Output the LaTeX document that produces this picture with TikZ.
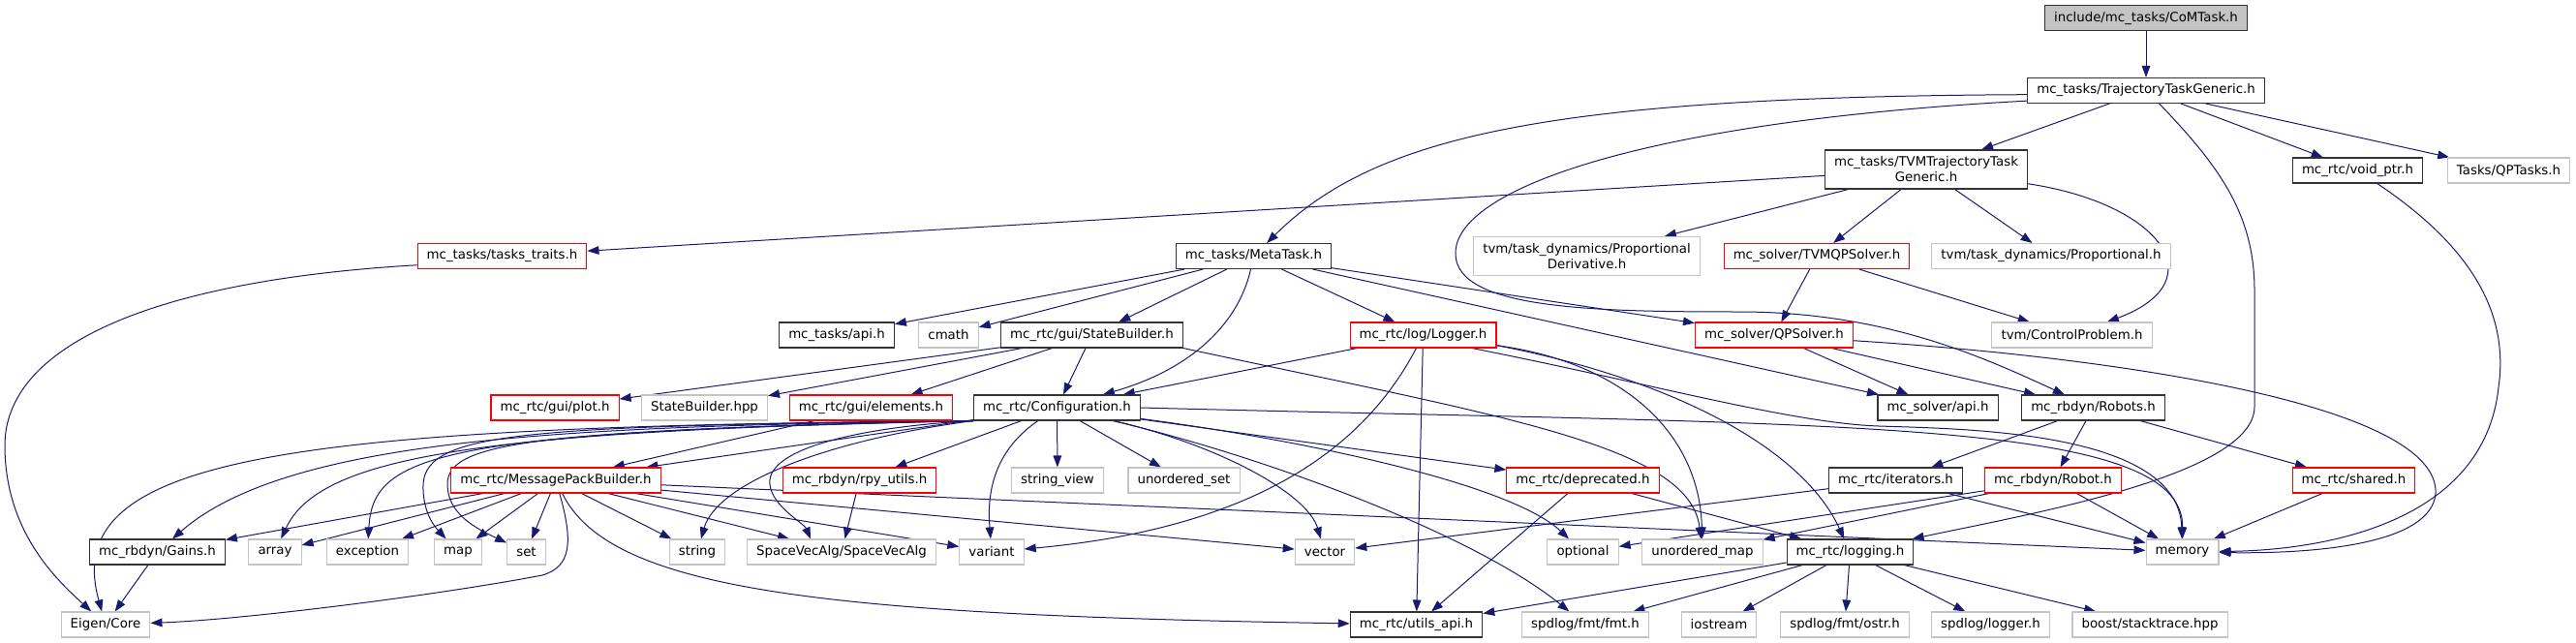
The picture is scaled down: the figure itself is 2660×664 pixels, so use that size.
\documentclass[tikz,border=0pt]{standalone}
\usepackage{fontspec}
\setmainfont{DejaVu Sans}
\usetikzlibrary{arrows.meta}
\definecolor{edgeblue}{HTML}{191970}
\definecolor{boxgray}{HTML}{C4C4C4}
\definecolor{boxred}{HTML}{FF0000}
\pgfdeclarelayer{background}
\pgfsetlayers{background,main}
\begin{document}
\begin{tikzpicture}[x=0.75pt,y=-0.75pt,
  file/.style={draw=black!80,line width=0.8pt,fill=white,inner xsep=7.2pt,
               inner ysep=0pt,minimum height=19.5pt,align=center,
               font=\fontsize{10}{12}\selectfont},
  trunc/.style={file,draw=boxred},
  sys/.style={file,draw=boxgray},
  root/.style={file,fill=boxgray},
  incl/.style={draw=edgeblue,line width=0.75pt,-{Triangle[length=9pt,width=6.5pt]}}]
\useasboundingbox (0,0) rectangle (2660,664);
% les fichiers
\node[root] (com) at (2216,18.7) {include/mc\_tasks/CoMTask.h};
\node[file] (ttg) at (2216,93.4) {mc\_tasks/TrajectoryTaskGeneric.h};
\node[file,minimum height=30pt] (tvmttg) at (1989,175) {mc\_tasks/TVMTrajectoryTask\\Generic.h};
\node[file] (voidptr) at (2434.5,176) {mc\_rtc/void\_ptr.h};
\node[sys] (qptasks) at (2590.5,176) {Tasks/QPTasks.h};
\node[trunc] (traits) at (518.5,264.5) {mc\_tasks/tasks\_traits.h};
\node[file] (meta) at (1294.5,264.5) {mc\_tasks/MetaTask.h};
\node[sys,minimum height=30pt] (pd) at (1638.5,264.5) {tvm/task\_dynamics/Proportional\\Derivative.h};
\node[trunc] (tvmqp) at (1876,264.5) {mc\_solver/TVMQPSolver.h};
\node[sys] (prop) at (2118,264.5) {tvm/task\_dynamics/Proportional.h};
\node[file] (tapi) at (864,346) {mc\_tasks/api.h};
\node[sys] (cmath) at (979.5,346) {cmath};
\node[file] (sb) at (1127.5,346) {mc\_rtc/gui/StateBuilder.h};
\node[trunc] (logger) at (1469.5,346) {mc\_rtc/log/Logger.h};
\node[trunc] (qps) at (1832,346) {mc\_solver/QPSolver.h};
\node[sys] (cp) at (2139.5,346) {tvm/ControlProblem.h};
\node[trunc] (plot) at (573,421) {mc\_rtc/gui/plot.h};
\node[sys] (sbhpp) at (727.5,421) {StateBuilder.hpp};
\node[trunc] (elements) at (899.5,421) {mc\_rtc/gui/elements.h};
\node[file] (conf) at (1091.5,421) {mc\_rtc/Configuration.h};
\node[file] (sapi) at (2001,421) {mc\_solver/api.h};
\node[file] (robots) at (2161.5,421) {mc\_rbdyn/Robots.h};
\node[trunc] (mpb) at (574,496) {mc\_rtc/MessagePackBuilder.h};
\node[trunc] (rpy) at (887.5,496) {mc\_rbdyn/rpy\_utils.h};
\node[sys] (sview) at (1092,496) {string\_view};
\node[sys] (uset) at (1222.5,496) {unordered\_set};
\node[trunc] (depr) at (1634.5,496) {mc\_rtc/deprecated.h};
\node[file] (iter) at (1957.5,496) {mc\_rtc/iterators.h};
\node[trunc] (robot) at (2120,496) {mc\_rbdyn/Robot.h};
\node[trunc] (shared) at (2430.5,496) {mc\_rtc/shared.h};
\node[file] (gains) at (162.5,570) {mc\_rbdyn/Gains.h};
\node[sys] (array) at (284,570) {array};
\node[sys] (exception) at (379.5,570) {exception};
\node[sys] (map) at (473,570) {map};
\node[sys] (set) at (543.5,570) {set};
\node[sys] (string) at (720,570) {string};
\node[sys] (sva) at (869,570) {SpaceVecAlg/SpaceVecAlg};
\node[sys] (variant) at (1024,570) {variant};
\node[sys] (vector) at (1368,570) {vector};
\node[sys] (optional) at (1634.5,570) {optional};
\node[sys] (umap) at (1758,570) {unordered\_map};
\node[file] (logging) at (1910.5,570) {mc\_rtc/logging.h};
\node[sys] (memory) at (2253.5,570) {memory};
\node[sys] (eigen) at (109,645) {Eigen/Core};
\node[file] (uapi) at (1462.5,645) {mc\_rtc/utils\_api.h};
\node[sys] (fmt) at (1637,645) {spdlog/fmt/fmt.h};
\node[sys] (iostream) at (1775,645) {iostream};
\node[sys] (ostr) at (1905,645) {spdlog/fmt/ostr.h};
\node[sys] (slogger) at (2055.5,645) {spdlog/logger.h};
\node[sys] (stacktrace) at (2220,645) {boost/stacktrace.hpp};
% les inclusions
\begin{pgfonlayer}{background}
\draw[incl] (com) -- (ttg);
\draw[incl] (ttg) -- (tvmttg);
\draw[incl] (ttg) -- (voidptr);
\draw[incl] (ttg) -- (qptasks);
\draw[incl] (ttg.182) .. controls (1600,100) and (1420,140) .. (meta);
\draw[incl] (ttg.185) .. controls (1700,125) and (1500,195) .. (1503,263)
  .. controls (1505,320) and (1650,322) .. (1800,322)
  .. controls (1950,323) and (2050,370) .. (robots);
\draw[incl] (ttg.-45) .. controls (2290,170) and (2328,220) .. (2328,300) -- (2328,420)
  .. controls (2328,490) and (2100,530) .. (logging);
\draw[incl] (tvmttg) -- (traits);
\draw[incl] (tvmttg) -- (pd);
\draw[incl] (tvmttg) -- (tvmqp);
\draw[incl] (tvmttg) -- (prop);
\draw[incl] (tvmttg.-8) .. controls (2230,210) and (2290,290) .. (cp);
\draw[incl] (tvmqp) -- (qps);
\draw[incl] (tvmqp) -- (cp);
\draw[incl] (voidptr) .. controls (2560,260) and (2590,330) .. (2580,400)
  .. controls (2565,540) and (2400,568) .. (memory);
\draw[incl] (traits.186) .. controls (150,290) and (5,360) .. (5,460)
  .. controls (5,550) and (60,600) .. (eigen);
\draw[incl] (meta) -- (tapi);
\draw[incl] (meta) -- (cmath);
\draw[incl] (meta) -- (sb);
\draw[incl] (meta) -- (logger);
\draw[incl] (meta) -- (sapi);
\draw[incl] (meta) -- (qps);
\draw[incl] (meta) .. controls (1280,330) and (1235,380) .. (conf);
\draw[incl] (sb) -- (plot);
\draw[incl] (sb) -- (sbhpp);
\draw[incl] (sb) -- (elements);
\draw[incl] (sb) -- (conf);
\draw[incl] (sb.south east) .. controls (1550,430) and (1745,460) .. (umap);
\draw[incl] (logger) -- (conf);
\draw[incl] (logger) -- (uapi);
\draw[incl] (logger) .. controls (1410,460) and (1300,545) .. (variant);
\draw[incl] (logger.-8) .. controls (1680,375) and (1755,450) .. (umap);
\draw[incl] (logger.-8) .. controls (1720,390) and (1860,460) .. (logging);
\draw[incl] (logger.-15) .. controls (1700,395) and (1850,437) .. (1940,440)
  .. controls (2030,443) and (2250,445) .. (memory);
\draw[incl] (qps) -- (sapi);
\draw[incl] (qps) -- (robots);
\draw[incl] (qps.-4) .. controls (2200,370) and (2520,420) .. (2515,510)
  .. controls (2510,560) and (2400,572) .. (memory);
\draw[incl] (elements) -- (mpb);
\draw[incl] (conf) -- (mpb);
\draw[incl] (conf) -- (rpy);
\draw[incl] (conf) -- (sview);
\draw[incl] (conf) -- (uset);
\draw[incl] (conf) -- (depr);
\draw[incl] (conf) .. controls (1260,460) and (1350,510) .. (vector);
\draw[incl] (conf) .. controls (1350,455) and (1560,500) .. (optional);
\draw[incl] (conf) .. controls (1300,470) and (1520,550) .. (fmt);
\draw[incl] (conf.east) .. controls (1900,440) and (2255,430) .. (memory);
\draw[incl] (conf) .. controls (1020,470) and (1020,520) .. (variant);
\draw[incl] (conf.south west) .. controls (600,440) and (300,450) .. (gains);
\draw[incl] (conf.south west) .. controls (500,445) and (330,470) .. (array);
\draw[incl] (conf.south west) .. controls (450,445) and (385,470) .. (exception);
\draw[incl] (conf.south west) .. controls (550,440) and (440,445) .. (437,500)
  .. controls (436,530) and (450,545) .. (map);
\draw[incl] (conf.south west) .. controls (560,445) and (462,455) .. (462,500)
  .. controls (462,530) and (490,545) .. (set);
\draw[incl] (conf.south west) .. controls (300,440) and (60,470) .. (eigen);
\draw[incl] (conf.south west) .. controls (850,455) and (740,500) .. (string);
\draw[incl] (conf.south west) .. controls (900,440) and (800,460) .. (795,495)
  .. controls (792,520) and (830,540) .. (sva.157);
\draw[incl] (robots) -- (iter);
\draw[incl] (robots) -- (robot);
\draw[incl] (robots) -- (shared);
\draw[incl] (mpb) -- (gains);
\draw[incl] (mpb) -- (array);
\draw[incl] (mpb) -- (exception);
\draw[incl] (mpb) -- (map);
\draw[incl] (mpb) -- (set);
\draw[incl] (mpb) -- (string);
\draw[incl] (mpb) -- (sva);
\draw[incl] (mpb) -- (variant);
\draw[incl] (mpb) -- (vector);
\draw[incl] (mpb) -- (memory);
\draw[incl] (mpb) .. controls (592,560) and (590,585) .. (560,594)
  .. controls (450,615) and (250,640) .. (eigen);
\draw[incl] (mpb) .. controls (630,610) and (850,635) .. (uapi);
\draw[incl] (rpy) -- (sva);
\draw[incl] (depr) -- (uapi);
\draw[incl] (depr) -- (logging);
\draw[incl] (iter) -- (vector);
\draw[incl] (iter) -- (memory);
\draw[incl] (robot) -- (optional);
\draw[incl] (robot) -- (umap);
\draw[incl] (robot) -- (memory);
\draw[incl] (shared) -- (memory);
\draw[incl] (gains) -- (eigen);
\draw[incl] (logging) -- (uapi);
\draw[incl] (logging) -- (fmt);
\draw[incl] (logging) -- (iostream);
\draw[incl] (logging) -- (ostr);
\draw[incl] (logging) -- (slogger);
\draw[incl] (logging) -- (stacktrace);
\end{pgfonlayer}
\end{tikzpicture}
\end{document}
